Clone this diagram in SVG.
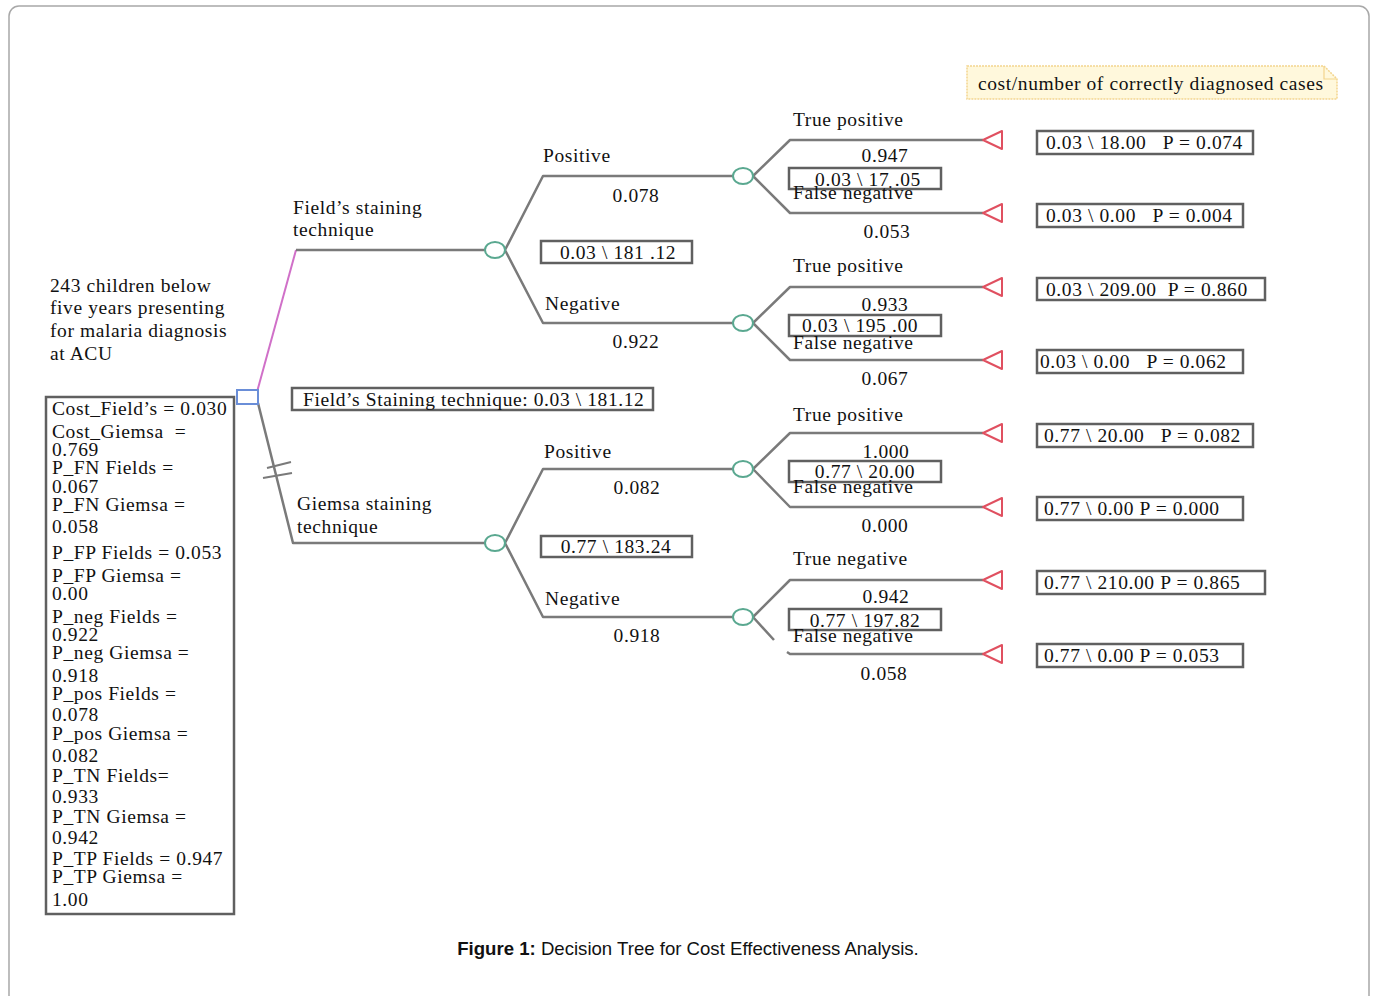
<svg xmlns="http://www.w3.org/2000/svg" width="1375" height="996" viewBox="0 0 1375 996">
<style>
text{font-family:"Liberation Serif","Times New Roman",serif;font-size:19.5px;letter-spacing:0.6px;fill:#111;white-space:pre}
.c{text-anchor:middle}
.ln{fill:none;stroke:#7a7a7a;stroke-width:2.5;stroke-linejoin:round}
.pk{fill:none;stroke:#d070c8;stroke-width:2}
.ch{fill:#fff;stroke:#5aa890;stroke-width:2}
.tm{fill:#fff;stroke:#e05060;stroke-width:2;stroke-linejoin:round}
.bx{fill:#fff;stroke:#606060;stroke-width:2.5}
.cap{font-family:"Liberation Sans",Arial,sans-serif;font-size:18.6px;letter-spacing:0}
</style>
<rect x="9" y="6" width="1360" height="1010" rx="10" fill="#fff" stroke="#a8a8a8" stroke-width="1.5"/>

<g id="connectors">
<path class="pk" d="M257,392 L296,250"/>
<path class="ln" d="M296,250 L485,250"/>
<path class="ln" d="M258,403 L293,543 L485,543"/>
<path d="M267,468 L291,462 M263,478 L292,473" stroke="#7a7a7a" stroke-width="2" fill="none"/>
<path class="ln" d="M505,250 L543,176 L733,176 M505,250 L543,323 L733,323"/>
<path class="ln" d="M505,543 L543,469 L733,469 M505,543 L543,617 L733,617"/>
<path class="ln" d="M753,176 L790,140 L983,140 M753,176 L790,213 L983,213"/>
<path class="ln" d="M753,323 L790,287 L983,287 M753,323 L790,360 L983,360"/>
<path class="ln" d="M753,469 L790,433 L983,433 M753,469 L790,507 L983,507"/>
<path class="ln" d="M753,617 L790,580 L983,580 M753,617 L774,640 M787,652 L790,654 L983,654"/>
</g>

<g id="root">
<rect x="237" y="390" width="21" height="14" fill="#fff" stroke="#6a8ed8" stroke-width="2"/>
<text x="50" y="292">243 children below</text>
<text x="50" y="314">five years presenting</text>
<text x="50" y="337">for malaria diagnosis</text>
<text x="50" y="360">at ACU</text>
</g>

<g id="variables">
<rect class="bx" x="46" y="397" width="188" height="517"/>
<text x="52" y="415">Cost_Field’s = 0.030</text>
<text x="52" y="438">Cost_Giemsa  =</text>
<text x="52" y="456">0.769</text>
<text x="52" y="474">P_FN Fields =</text>
<text x="52" y="493">0.067</text>
<text x="52" y="511">P_FN Giemsa =</text>
<text x="52" y="533">0.058</text>
<text x="52" y="559">P_FP Fields = 0.053</text>
<text x="52" y="582">P_FP Giemsa =</text>
<text x="52" y="600">0.00</text>
<text x="52" y="623">P_neg Fields =</text>
<text x="52" y="641">0.922</text>
<text x="52" y="659">P_neg Giemsa =</text>
<text x="52" y="682">0.918</text>
<text x="52" y="700">P_pos Fields =</text>
<text x="52" y="721">0.078</text>
<text x="52" y="740">P_pos Giemsa =</text>
<text x="52" y="762">0.082</text>
<text x="52" y="782">P_TN Fields=</text>
<text x="52" y="803">0.933</text>
<text x="52" y="823">P_TN Giemsa =</text>
<text x="52" y="844">0.942</text>
<text x="52" y="865">P_TP Fields = 0.947</text>
<text x="52" y="883">P_TP Giemsa =</text>
<text x="52" y="906">1.00</text>
</g>

<g id="summary">
<rect class="bx" x="292" y="388" width="361" height="22"/>
<text x="303" y="406">Field’s Staining technique: 0.03 \ 181.12</text>
</g>

<g id="note">
<path d="M967,66 L1324,66 L1337,79 L1337,99 L967,99 Z" fill="#fff8dc" stroke="#f3d58e" stroke-width="1.5" stroke-dasharray="2,1"/>
<path d="M1324,66 L1324,79 L1337,79" fill="none" stroke="#f3d58e" stroke-width="1.2"/>
<text x="978" y="90">cost/number of correctly diagnosed cases</text>
</g>

<g id="fields">
<text x="293" y="214">Field’s staining</text>
<text x="293" y="236">technique</text>
<ellipse class="ch" cx="495" cy="250" rx="10" ry="8"/>
<rect class="bx" x="541" y="241" width="151" height="22"/>
<text class="c" x="618" y="259">0.03 \ 181 .12</text>
<text x="543" y="162">Positive</text>
<text class="c" x="636" y="202">0.078</text>
<text x="545" y="310">Negative</text>
<text class="c" x="636" y="348">0.922</text>
</g>

<g id="fields-pos">
<ellipse class="ch" cx="743" cy="176" rx="10" ry="8"/>
<text x="793" y="126">True positive</text>
<text class="c" x="885" y="162">0.947</text>
<rect class="bx" x="789" y="168" width="152" height="21"/>
<text class="c" x="868" y="186">0.03 \ 17 .05</text>
<text x="793" y="199">False negative</text>
<text class="c" x="887" y="238">0.053</text>
</g>

<g id="fields-neg">
<ellipse class="ch" cx="743" cy="323" rx="10" ry="8"/>
<text x="793" y="272">True positive</text>
<text class="c" x="885" y="311">0.933</text>
<rect class="bx" x="789" y="315" width="152" height="21"/>
<text class="c" x="860" y="332">0.03 \ 195 .00</text>
<text x="793" y="349">False negative</text>
<text class="c" x="885" y="385">0.067</text>
</g>

<g id="giemsa">
<text x="297" y="510">Giemsa staining</text>
<text x="297" y="533">technique</text>
<ellipse class="ch" cx="495" cy="543" rx="10" ry="8"/>
<rect class="bx" x="541" y="536" width="151" height="21"/>
<text class="c" x="616" y="553">0.77 \ 183.24</text>
<text x="544" y="458">Positive</text>
<text class="c" x="637" y="494">0.082</text>
<text x="545" y="605">Negative</text>
<text class="c" x="637" y="642">0.918</text>
</g>

<g id="giemsa-pos">
<ellipse class="ch" cx="743" cy="469" rx="10" ry="8"/>
<text x="793" y="421">True positive</text>
<text class="c" x="886" y="458">1.000</text>
<rect class="bx" x="789" y="461" width="152" height="21"/>
<text class="c" x="865" y="478">0.77 \ 20.00</text>
<text x="793" y="493">False negative</text>
<text class="c" x="885" y="532">0.000</text>
</g>

<g id="giemsa-neg">
<ellipse class="ch" cx="743" cy="617" rx="10" ry="8"/>
<text x="793" y="565">True negative</text>
<text class="c" x="886" y="603">0.942</text>
<rect class="bx" x="789" y="609" width="152" height="21"/>
<text class="c" x="865" y="627">0.77 \ 197.82</text>
<text x="793" y="642">False negative</text>
<text class="c" x="884" y="680">0.058</text>
</g>

<g id="terminals">
<path class="tm" d="M983,140 L1002,131 L1002,149 Z"/>
<path class="tm" d="M983,213 L1002,204 L1002,222 Z"/>
<path class="tm" d="M983,287 L1002,278 L1002,296 Z"/>
<path class="tm" d="M983,360 L1002,351 L1002,369 Z"/>
<path class="tm" d="M983,433 L1002,424 L1002,442 Z"/>
<path class="tm" d="M983,507 L1002,498 L1002,516 Z"/>
<path class="tm" d="M983,580 L1002,571 L1002,589 Z"/>
<path class="tm" d="M983,654 L1002,645 L1002,663 Z"/>
</g>

<g id="outcomes">
<rect class="bx" x="1037" y="131" width="216" height="23"/>
<text x="1046" y="149">0.03 \ 18.00   P = 0.074</text>
<rect class="bx" x="1037" y="204" width="206" height="23"/>
<text x="1046" y="222">0.03 \ 0.00   P = 0.004</text>
<rect class="bx" x="1037" y="278" width="228" height="22"/>
<text x="1046" y="296">0.03 \ 209.00  P = 0.860</text>
<rect class="bx" x="1037" y="350" width="206" height="23"/>
<text x="1040" y="368">0.03 \ 0.00   P = 0.062</text>
<rect class="bx" x="1037" y="424" width="216" height="23"/>
<text x="1044" y="442">0.77 \ 20.00   P = 0.082</text>
<rect class="bx" x="1037" y="497" width="206" height="23"/>
<text x="1044" y="515">0.77 \ 0.00 P = 0.000</text>
<rect class="bx" x="1037" y="571" width="228" height="23"/>
<text x="1044" y="589">0.77 \ 210.00 P = 0.865</text>
<rect class="bx" x="1037" y="644" width="206" height="23"/>
<text x="1044" y="662">0.77 \ 0.00 P = 0.053</text>
</g>

<text class="cap" x="688" y="955" text-anchor="middle"><tspan font-weight="bold">Figure 1:</tspan> Decision Tree for Cost Effectiveness Analysis.</text>
</svg>
